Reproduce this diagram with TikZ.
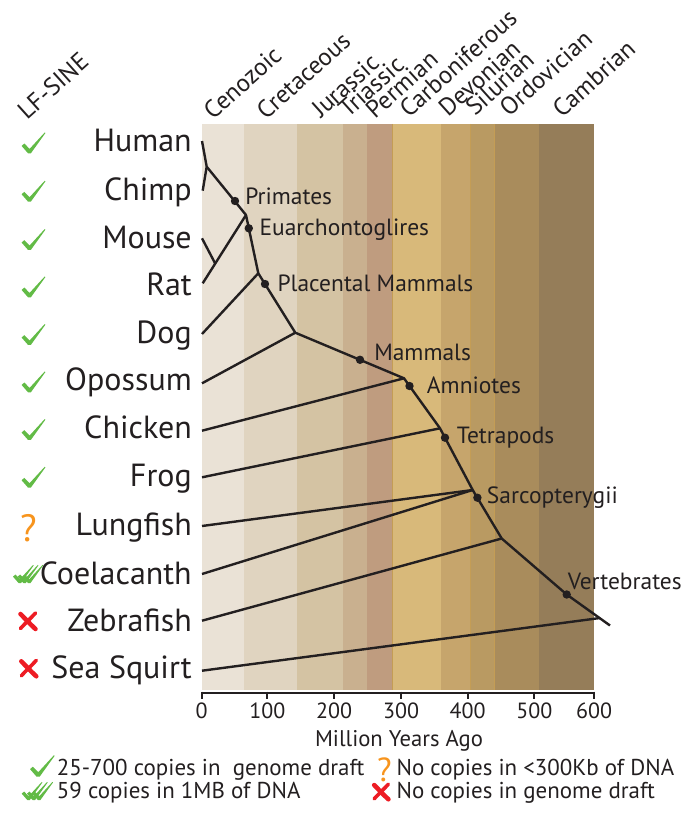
\documentclass[tikz,border=0pt]{standalone}
\usepackage{fontspec}
\setmainfont{PT Sans}
\definecolor{ink}{HTML}{231F20}
\definecolor{chkgreen}{HTML}{62BB46}
\definecolor{qorange}{HTML}{F7941D}
\definecolor{crsred}{HTML}{ED1C24}
\definecolor{bA}{HTML}{EAE2D6}
\definecolor{bB}{HTML}{E0D4C0}
\definecolor{bC}{HTML}{D4C3A3}
\definecolor{bD}{HTML}{C9B08F}
\definecolor{bE}{HTML}{BF9C7F}
\definecolor{bF}{HTML}{D8B97A}
\definecolor{bG}{HTML}{C6A56C}
\definecolor{bH}{HTML}{B99A62}
\definecolor{bI}{HTML}{A98C5C}
\definecolor{bJ}{HTML}{957D59}
\definecolor{bandline}{HTML}{C49D55}
\begin{document}
\begin{tikzpicture}[x=0.75pt,y=-0.75pt,
  taxon/.style={anchor=base east, inner sep=0pt, text=ink, font=\fontsize{24}{24}\selectfont},
  clade/.style={anchor=base west, inner sep=0pt, text=ink, font=\fontsize{17.6}{18}\selectfont},
  era/.style={anchor=base west, inner sep=0pt, text=ink, rotate=42, font=\fontsize{18.6}{19}\selectfont},
  ticklab/.style={anchor=base, inner sep=0pt, text=ink, font=\fontsize{16.5}{17}\selectfont},
  legtext/.style={anchor=base west, inner sep=0pt, text=ink, font=\fontsize{17.2}{18}\selectfont},
  qmark/.style={anchor=base, inner sep=0pt, text=qorange},
  branch/.style={draw=ink, line width=1.8pt, line join=round},
  cladedot/.style={fill=ink},
  chk/.pic={\fill[chkgreen] (-8.5,-6.7) -- (-5.5,-9.3) -- (0.2,-3.5) -- (16.6,-21.3) -- (17.4,-20.7) -- (1.6,1.3) -- (-1.5,1.3) -- cycle;},
  crs/.pic={\draw[crsred, line width=3.4pt, line cap=round] (-7.5,-7) .. controls (-2,-1.5) and (2,3) .. (7.5,8);
            \draw[crsred, line width=2.7pt, line cap=round] (7.5,-8) .. controls (3,-3) and (-3,2.5) .. (-7.5,7.5);}
]
\useasboundingbox (0,0) rectangle (686,813);

% geological bands
\fill[bA] (201.7,124) rectangle (244,690);
\fill[bB] (244,124) rectangle (297.3,690);
\fill[bC] (297.3,124) rectangle (343,690);
\fill[bD] (343,124) rectangle (367,690);
\fill[bE] (367,124) rectangle (392.3,690);
\fill[bF] (392.3,124) rectangle (441,690);
\fill[bG] (441,124) rectangle (470,690);
\fill[bH] (470,124) rectangle (494,690);
\fill[bI] (494,124) rectangle (539,690);
\fill[bJ] (539,124) rectangle (594,690);
\draw[bandline, line width=0.6pt] (392.3,124) -- (392.3,690) (470,124) -- (470,690) (494,124) -- (494,690);

% era labels
\node[era] (lf) at (27,121) {LF-SINE};
\node[era] (e1) at (213,121) {Cenozoic};
\node[era] (e2) at (266,121) {Cretaceous};
\node[era] (e3) at (321,119) {Jurassic};
\node[era] (e4) at (348,119) {Triassic};
\node[era] (e5) at (375,120) {Permian};
\node[era] (e6) at (409,119) {Carboniferous};
\node[era] (e7) at (448,118) {Devonian};
\node[era] (e8) at (475,117) {Silurian};
\node[era] (e9) at (509,118) {Ordovician};
\node[era] (e10) at (562,119) {Cambrian};

% taxa
\node[taxon] (nHuman) at (192,151.7) {Human};
\node[taxon] (nChimp) at (192,200) {Chimp};
\node[taxon] (nMouse) at (192,248.3) {Mouse};
\node[taxon] (nRat) at (192,295.7) {Rat};
\node[taxon] (nDog) at (192,343.3) {Dog};
\node[taxon] (nOpossum) at (192,390.7) {Opossum};
\node[taxon] (nChicken) at (192,438.3) {Chicken};
\node[taxon] (nFrog) at (192,486) {Frog};
\node[taxon] (nLungfish) at (192,535) {Lungfish};
\node[taxon] (nCoel) at (192,584.3) {Coelacanth};
\node[taxon] (nZebra) at (192,631) {Zebrafish};
\node[taxon] (nSea) at (192,678.3) {Sea Squirt};

% LF-SINE marks
\foreach \by in {151.7,200,248.3,295.7,343.3,390.7,438.3,486}
  \pic[scale=0.92] at (29.4,\by+0.4) {chk};
\pic[scale=0.8] at (19.8,582) {chk};
\pic[scale=0.8] at (24.5,582) {chk};
\pic[scale=0.8] at (29.2,582) {chk};
\node[qmark, font=\fontsize{28.5}{29}\selectfont] (qL) at (28.3,541.7) {?};
\pic at (28,621) {crs};
\pic at (28.8,668.3) {crs};

% tree coordinates
\coordinate (tH) at (202,141);
\coordinate (tC) at (202.7,190.7);
\coordinate (tM) at (202,238.3);
\coordinate (tR) at (202.7,283.3);
\coordinate (tD) at (202,334);
\coordinate (tO) at (202,383.3);
\coordinate (tCh) at (202,430.7);
\coordinate (tF) at (202,477.3);
\coordinate (tL) at (202,526);
\coordinate (tCo) at (202,574);
\coordinate (tZ) at (202,620.7);
\coordinate (tS) at (202,670.7);
\coordinate (j1) at (206.7,166.7);
\coordinate (jMR) at (215.2,263.5);
\coordinate (jEu) at (246,215);
\coordinate (jPl) at (258.3,273.3);
\coordinate (jMa) at (295.3,332.7);
\coordinate (jAm) at (404,378.3);
\coordinate (jTe) at (440,428.3);
\coordinate (jSa) at (472.7,490);
\coordinate (jV) at (501.7,538.5);
\coordinate (dV) at (566.7,594.5);
\coordinate (jSS) at (600,618);
\coordinate (root) at (610,625.5);

% branches
\draw[branch] (tH) -- (j1) -- (tC);
\draw[branch] (j1) -- (jEu);
\draw[branch] (tM) -- (jMR);
\draw[branch] (tR) -- (jEu) -- (jPl) -- (jMa) -- (jAm) -- (jTe) -- (jSa) -- (jV) -- (dV) -- (root);
\draw[branch] (tD) -- (jPl);
\draw[branch] (tO) -- (jMa);
\draw[branch] (tCh) -- (jAm);
\draw[branch] (tF) -- (jTe);
\draw[branch] (tL) -- (jSa);
\draw[branch] (tCo) -- (jSa);
\draw[branch] (tZ) -- (jV);
\draw[branch] (tS) -- (jSS);

% clade dots
\fill[cladedot] (235,201) circle (4.2);
\fill[cladedot] (248.8,228.3) circle (4.2);
\fill[cladedot] (265,284) circle (4.2);
\fill[cladedot] (360,359.8) circle (4.2);
\fill[cladedot] (409.5,386) circle (4.2);
\fill[cladedot] (445,437.7) circle (4.2);
\fill[cladedot] (477.4,497.7) circle (4.2);
\fill[cladedot] (dV) circle (4.2);

% clade labels
\node[clade] (cPrim) at (245,204) {Primates};
\node[clade] (cEua) at (259.3,235) {Euarchontoglires};
\node[clade] (cPla) at (277.3,291.7) {Placental Mammals};
\node[clade] (cMam) at (374,360) {Mammals};
\node[clade] (cAmn) at (426.7,393.3) {Amniotes};
\node[clade] (cTet) at (456.7,443.3) {Tetrapods};
\node[clade] (cSar) at (486.7,503.3) {Sarcopterygii};
\node[clade] (cVer) at (567.5,589.3) {Vertebrates};

% axis
\draw[ink, line width=1.5pt] (201.7,693.3) -- (594,693.3);
\foreach \tx/\tl in {201.7/0,267.3/100,334/200,401/300,467.7/400,534.3/500,594/600}{
  \draw[ink, line width=1.5pt] (\tx,691.5) -- (\tx,698.5);
  \node[ticklab] at (\tx,718.3) {\tl};
}
\node[ticklab, font=\fontsize{17}{18}\selectfont] (xlab) at (399,746) {Million Years Ago};

% legend
\pic[scale=0.95] at (38.1,775.5) {chk};
\node[legtext] (l1) at (56.7,775) {25-700 copies in\ \ genome draft};
\pic[scale=0.8] at (28.5,799) {chk};
\pic[scale=0.8] at (33.8,799) {chk};
\pic[scale=0.8] at (39.1,799) {chk};
\node[legtext] (l2) at (56.7,798.3) {59 copies in 1MB of DNA};
\node[qmark, font=\fontsize{25}{25}\selectfont] (q2) at (384.5,781.7) {?};
\node[legtext] (l3) at (396.3,775) {No copies in <300Kb of DNA};
\pic[scale=0.95] at (381.3,791.7) {crs};
\node[legtext] (l4) at (396.3,798.3) {No copies in genome draft};
\end{tikzpicture}
\end{document}
